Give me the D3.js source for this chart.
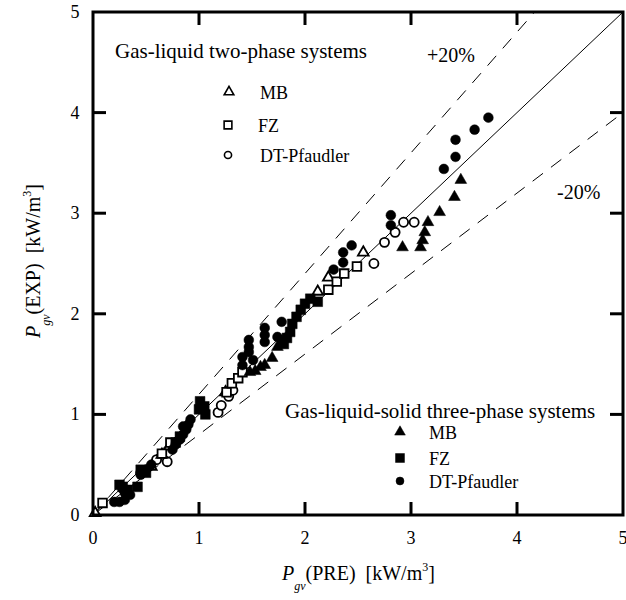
<!DOCTYPE html>
<html lang="en">
<head>
<meta charset="UTF-8">
<title>Pgv EXP vs PRE</title>
<style>
  body { margin: 0; background: #fff; }
  text { font-family: "Liberation Serif", "Times New Roman", serif; fill: #000; }
  .title { white-space: pre; }
</style>
</head>
<body>
<div id="graph"></div>
<script src="https://d3js.org/d3.v7.min.js"></script>
<script>
// axis ticks
const TICKS = [0, 1, 2, 3, 4, 5];

// gas-liquid two-phase systems (open markers) [PRE, EXP]
const gl_MB = [[0.02, 0.02], [0.55, 0.48], [0.65, 0.60], [0.72, 0.68], [1.25, 1.22], [2.12, 2.22], [2.22, 2.36], [2.55, 2.61]];
const gl_FZ = [[0.09, 0.12], [0.65, 0.61], [0.73, 0.72], [1.26, 1.22], [1.31, 1.31], [1.37, 1.36], [1.41, 1.42],
               [2.22, 2.24], [2.30, 2.32], [2.37, 2.40], [2.49, 2.47]];
const gl_DT = [[0.45, 0.42], [0.60, 0.55], [0.70, 0.53], [1.18, 1.02], [1.21, 1.09], [1.28, 1.18], [1.32, 1.24],
               [2.65, 2.50], [2.75, 2.71], [2.85, 2.81], [2.93, 2.91], [3.03, 2.91]];

// gas-liquid-solid three-phase systems (filled markers)
const gls_MB = [[1.48, 1.42], [1.53, 1.43], [1.58, 1.47], [1.62, 1.49], [1.69, 1.56], [1.74, 1.67], [1.78, 1.72],
                [2.92, 2.66], [3.09, 2.66], [3.11, 2.73], [3.13, 2.81], [3.16, 2.91], [3.27, 3.01], [3.41, 3.16], [3.47, 3.33]];
const gls_FZ = [[0.25, 0.30], [0.28, 0.28], [0.33, 0.25], [0.42, 0.28], [0.45, 0.45], [0.50, 0.42],
                [0.78, 0.72], [0.82, 0.78], [1.00, 1.05], [1.01, 1.13], [1.05, 1.08], [1.06, 1.00],
                [1.80, 1.70], [1.83, 1.76], [1.86, 1.82], [1.88, 1.90], [1.92, 1.97], [1.96, 2.04], [2.00, 2.10], [2.05, 2.15], [2.12, 2.12]];
const gls_DT = [[0.20, 0.13], [0.25, 0.13], [0.30, 0.15], [0.30, 0.22], [0.35, 0.20], [0.28, 0.26], [0.45, 0.40], [0.50, 0.45], [0.55, 0.50],
                [0.75, 0.65], [0.78, 0.70], [0.82, 0.75], [0.85, 0.80], [0.88, 0.85], [0.90, 0.90], [0.85, 0.88], [0.92, 0.95],
                [1.41, 1.49], [1.41, 1.57], [1.47, 1.62], [1.47, 1.67], [1.47, 1.74], [1.51, 1.54], [1.62, 1.72], [1.62, 1.79],
                [1.62, 1.86], [1.74, 1.77], [1.78, 1.92], [2.27, 2.44], [2.36, 2.51], [2.36, 2.61], [2.44, 2.68],
                [2.81, 2.88], [2.81, 2.98], [3.31, 3.44], [3.42, 3.56], [3.42, 3.73], [3.60, 3.83], [3.73, 3.95]];

const W = 626, H = 600;
const x = d3.scaleLinear().domain([0, 5]).range([93, 623]);
const y = d3.scaleLinear().domain([0, 5]).range([515, 12]);

const svg = d3.select("#graph").append("svg")
    .attr("width", W).attr("height", H);

// reference lines: y = x, +20%, -20%
const line = d3.line().x(d => x(d[0])).y(d => y(d[1]));
svg.append("path").attr("d", line([[0, 0], [5, 5]]))
    .attr("stroke", "#000").attr("stroke-width", 1).attr("fill", "none");
svg.append("path").attr("d", line([[0, 0], [5 / 1.2, 5]]))
    .attr("stroke", "#000").attr("stroke-width", 1).attr("fill", "none").attr("stroke-dasharray", "13,10");
svg.append("path").attr("d", line([[0, 0], [5, 4]]))
    .attr("stroke", "#000").attr("stroke-width", 1).attr("fill", "none").attr("stroke-dasharray", "13,10");

// markers
function drawSeries(data, type, size, filled) {
    svg.append("g").selectAll("path")
        .data(data)
        .enter()
        .append("path")
        .attr("transform", d => `translate(${x(d[0])},${y(d[1])})`)
        .attr("d", d3.symbol().type(type).size(size))
        .attr("fill", filled ? "#000" : "#fff")
        .attr("stroke", "#000")
        .attr("stroke-width", filled ? 0.5 : 1.8);
}
drawSeries(gl_DT, d3.symbolCircle, 65, false);
drawSeries(gl_MB, d3.symbolTriangle, 50, false);
drawSeries(gl_FZ, d3.symbolSquare, 75, false);
drawSeries(gls_DT, d3.symbolCircle, 75, true);
drawSeries(gls_FZ, d3.symbolSquare, 95, true);
drawSeries(gls_MB, d3.symbolTriangle, 60, true);

// frame with inward ticks on all four sides
const TICK_LEN = 13;
const axes = svg.append("g").attr("stroke", "#000").attr("stroke-width", 3);
axes.append("rect").attr("x", x(0)).attr("y", y(5))
    .attr("width", x(5) - x(0)).attr("height", y(0) - y(5)).attr("fill", "none");
TICKS.slice(1, -1).forEach(t => {
    axes.append("line").attr("x1", x(t)).attr("x2", x(t)).attr("y1", y(0)).attr("y2", y(0) - TICK_LEN);
    axes.append("line").attr("x1", x(t)).attr("x2", x(t)).attr("y1", y(5)).attr("y2", y(5) + TICK_LEN);
    axes.append("line").attr("x1", x(0)).attr("x2", x(0) + TICK_LEN).attr("y1", y(t)).attr("y2", y(t));
    axes.append("line").attr("x1", x(5)).attr("x2", x(5) - TICK_LEN).attr("y1", y(t)).attr("y2", y(t));
});

// tick labels
svg.selectAll(".xt").data(TICKS).enter().append("text")
    .attr("x", d => x(d)).attr("y", 544).attr("text-anchor", "middle")
    .attr("font-size", 18).text(d => d);
svg.selectAll(".yt").data(TICKS).enter().append("text")
    .attr("x", 75).attr("y", d => y(d) + 6).attr("text-anchor", "middle")
    .attr("font-size", 18).text(d => d);

// axis titles
const xl = svg.append("text").attr("class", "title").attr("x", 282).attr("y", 580).attr("font-size", 20);
xl.append("tspan").attr("font-style", "italic").text("P");
xl.append("tspan").attr("font-size", 12).attr("font-style", "italic").attr("dy", 10).text("gv");
xl.append("tspan").attr("dy", -10).text("(PRE)  [kW/m");
xl.append("tspan").attr("font-size", 12).attr("dy", -9).text("3");
xl.append("tspan").attr("dy", 9).text("]");

const yl = svg.append("text").attr("class", "title").attr("transform", "translate(40,338) rotate(-90)").attr("font-size", 20);
yl.append("tspan").attr("font-style", "italic").text("P");
yl.append("tspan").attr("font-size", 12).attr("font-style", "italic").attr("dy", 10).text("gv");
yl.append("tspan").attr("dy", -10).text("(EXP)  [kW/m");
yl.append("tspan").attr("font-size", 12).attr("dy", -9).text("3");
yl.append("tspan").attr("dy", 9).text("]");

// annotations
svg.append("text").attr("x", 115).attr("y", 58).attr("font-size", 21).text("Gas-liquid two-phase systems");
svg.append("text").attr("x", 427).attr("y", 62).attr("font-size", 20).text("+20%");
svg.append("text").attr("x", 557).attr("y", 199).attr("font-size", 20).text("-20%");
svg.append("text").attr("x", 285).attr("y", 418).attr("font-size", 21).text("Gas-liquid-solid three-phase systems");

// legends
function legendItem(cx, cy, type, size, filled, label, tx) {
    svg.append("path").attr("transform", `translate(${cx},${cy})`)
        .attr("d", d3.symbol().type(type).size(size))
        .attr("fill", filled ? "#000" : "#fff").attr("stroke", "#000")
        .attr("stroke-width", filled ? 0.5 : 1.6);
    svg.append("text").attr("x", tx).attr("y", cy + 7).attr("font-size", 18).text(label);
}
legendItem(229, 92, d3.symbolTriangle, 40, false, "MB", 260);
legendItem(228, 125, d3.symbolSquare, 60, false, "FZ", 258);
legendItem(228, 155, d3.symbolCircle, 40, false, "DT-Pfaudler", 260);
legendItem(400, 432, d3.symbolTriangle, 50, true, "MB", 429);
legendItem(400, 458, d3.symbolSquare, 80, true, "FZ", 429);
legendItem(400, 481, d3.symbolCircle, 50, true, "DT-Pfaudler", 429);
</script>
</body>
</html>
